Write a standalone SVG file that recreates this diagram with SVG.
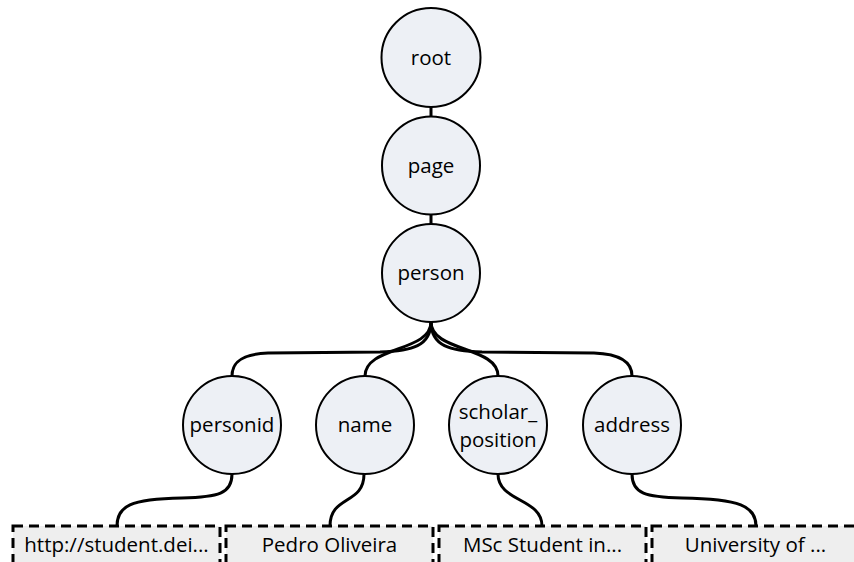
<svg xmlns="http://www.w3.org/2000/svg" width="854" height="562" viewBox="0 0 854 562">
<style>
.c{fill:#edf0f5;stroke:#000;stroke-width:2}
.b{fill:#eeeeee;stroke:#000;stroke-width:3;stroke-dasharray:10,6}
.e{fill:none;stroke:#000;stroke-width:3;stroke-linecap:round}
text{font-family:"Open Sans","Noto Sans",sans-serif;font-size:20.5px;fill:#000;text-anchor:middle}
</style>
<rect width="854" height="562" fill="#fff"/>
<g id="connectors">
<path class="e" d="M431,107 L431,117"/>
<path class="e" d="M431,214 L431,224"/>
<path class="e" d="M431,322 C431,346 412,351 380,352 L268,353 C242,354 232,362 232,376"/>
<path class="e" d="M431,322 C431,352 365,346 365,376"/>
<path class="e" d="M431,322 C431,352 498,346 498,376"/>
<path class="e" d="M431,322 C431,346 450,351 482,352 L594,353 C620,354 632,362 632,376"/>
<path class="e" d="M232,474 C232,494 218,497 182,498 C130,499 117,506 117,526"/>
<path class="e" d="M364,474 C364,505 330,495 330,526"/>
<path class="e" d="M498,474 C498,502 542,498 542,526"/>
<path class="e" d="M632,474 C632,494 646,497 682,498 C740,499 756,506 756,526"/>
</g>
<g id="root"><circle class="c" cx="431" cy="57.5" r="49.5"/><text x="431" y="65">root</text></g>
<g id="page"><circle class="c" cx="431" cy="165.5" r="49"/><text x="431" y="173">page</text></g>
<g id="person"><circle class="c" cx="431" cy="273" r="49"/><text x="431" y="280">person</text></g>
<g id="personid"><circle class="c" cx="232" cy="425" r="49"/><text x="232" y="432">personid</text></g>
<g id="name"><circle class="c" cx="365" cy="425" r="49"/><text x="365" y="432">name</text></g>
<g id="scholar_position"><circle class="c" cx="498" cy="425" r="49"/><text x="498" y="419">scholar_</text><text x="498" y="447">position</text></g>
<g id="address"><circle class="c" cx="632" cy="425" r="49"/><text x="632" y="432">address</text></g>
<g id="box1"><rect class="b" x="13" y="526" width="207" height="44"/><text x="116.5" y="552">http://student.dei...</text></g>
<g id="box2"><rect class="b" x="226" y="526" width="207" height="44"/><text x="329.5" y="552">Pedro Oliveira</text></g>
<g id="box3"><rect class="b" x="439" y="526" width="207" height="44"/><text x="542.5" y="552">MSc Student in...</text></g>
<g id="box4"><rect class="b" x="652" y="526" width="207" height="44"/><text x="755.5" y="552">University of ...</text></g>
</svg>
